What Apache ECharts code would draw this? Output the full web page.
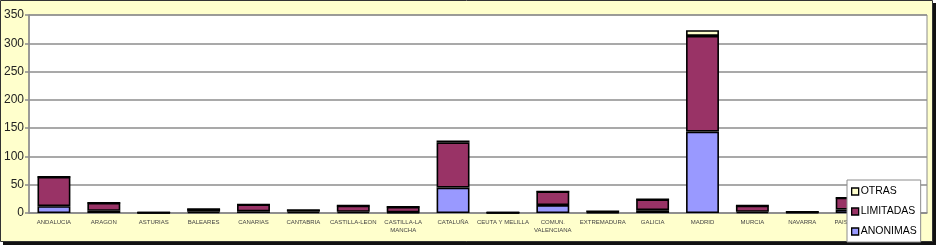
<!DOCTYPE html>
<html>
<head>
<meta charset="utf-8">
<script src="https://cdn.jsdelivr.net/npm/echarts@6/dist/echarts.min.js"></script>
<style>
html,body{margin:0;padding:0;background:#fff;}
#c{width:944px;height:247px;}
</style>
</head>
<body>
<div id="c"></div>
<script>
const categories = ['ANDALUCIA','ARAGON','ASTURIAS','BALEARES','CANARIAS','CANTABRIA','CASTILLA-LEON','CASTILLA-LA\nMANCHA','CATALUÑA','CEUTA Y MELILLA','COMUN.\nVALENCIANA','EXTREMADURA','GALICIA','MADRID','MURCIA','NAVARRA','PAIS VASCO','RIOJA'];
const anonimas  = [12, 4, 0.5, 2, 3, 2, 2, 1, 45, 0.5, 14, 1, 5, 144, 2, 1, 6, 1];
const limitadas = [52, 14, 0.5, 5, 12, 3, 11, 10, 80, 0.5, 24, 2, 19, 169, 11, 1, 21, 2];
const otras     = [0, 0, 0, 0, 0, 0, 0, 0, 3, 0, 0, 0, 0, 10, 0, 0, 0, 0];
const yTicks = [0, 50, 100, 150, 200, 250, 300, 350];

const chart = echarts.init(document.getElementById('c'), null, {renderer:'canvas'});
const font = 'Arial, "Liberation Sans", sans-serif';
const bar = (name, data, color) => ({
  name, type:'bar', stack:'t', data,
  barCategoryGap:'34%',
  itemStyle:{color, borderColor:'#000', borderWidth:1.6},
  emphasis:{disabled:true}
});
chart.setOption({
  animation:false,
  backgroundColor:'#fff',
  graphic:[
    {type:'rect', z:-10, shape:{x:3, y:3, width:933, height:242}, style:{fill:'#111'}},
    {type:'rect', z:-9, shape:{x:0.5, y:0.5, width:932, height:241}, style:{fill:'#FFFFCC', stroke:'#333', lineWidth:1}}
  ],
  grid:{left:29, right:17, top:15, bottom:34, show:true, backgroundColor:'#fff', borderColor:'#8c8c8c', borderWidth:1},
  legend:{
    orient:'vertical', left:847, top:180,
    data:['OTRAS','LIMITADAS','ANONIMAS'],
    backgroundColor:'#fff', borderColor:'#8c8c8c', borderWidth:1,
    padding:[5,4,4,4], itemGap:7, itemWidth:7, itemHeight:7, icon:'rect',
    textStyle:{fontFamily:font, fontSize:10.5, color:'#000', padding:[0,0,0,-3], lineHeight:13},
    itemStyle:{borderColor:'#000', borderWidth:1.3},
    z:20
  },
  xAxis:{
    type:'category', data:categories,
    axisLine:{show:true, lineStyle:{color:'#8c8c8c', width:1.5}},
    axisTick:{show:false},
    axisLabel:{interval:0, fontFamily:font, fontSize:6, color:'#444', margin:6, lineHeight:7.5}
  },
  yAxis:{
    type:'value', min:0, max:350, interval:50,
    axisLine:{show:true, lineStyle:{color:'#8c8c8c', width:1.5}},
    axisTick:{show:true, inside:false, length:4, lineStyle:{color:'#8c8c8c', width:1.5}},
    splitLine:{show:true, lineStyle:{color:'#8c8c8c', width:1.5}},
    axisLabel:{fontFamily:font, fontSize:12, color:'#222', margin:5,
      formatter:v => yTicks.includes(v) ? String(v) : ''}
  },
  series:[
    bar('ANONIMAS', anonimas, '#9999FF'),
    bar('LIMITADAS', limitadas, '#993366'),
    bar('OTRAS', otras, '#FFFFCC')
  ]
});
</script>
</body>
</html>
